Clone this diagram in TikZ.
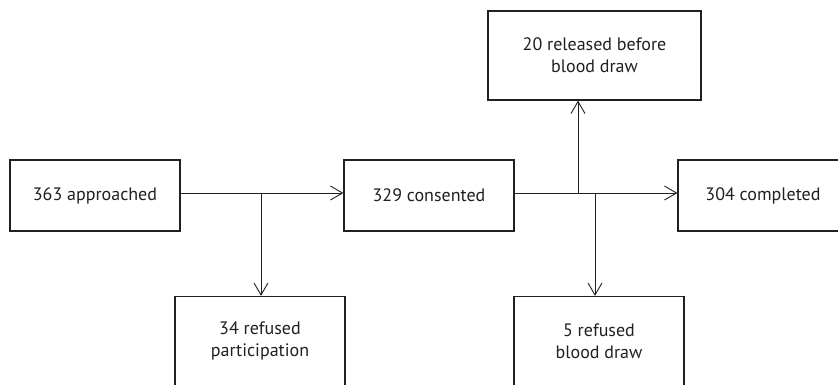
\documentclass[tikz,border=0pt]{standalone}
\usepackage{fontspec}
\setmainfont{PT Sans}
\usetikzlibrary{arrows.meta}
\definecolor{ink}{HTML}{231F20}
\begin{document}
\begin{tikzpicture}[x=1pt,y=-1pt,
  box/.style={draw=ink, line width=1.3pt, minimum width=170pt, minimum height=71pt, inner sep=0pt, align=center, text=ink, font=\fontsize{18}{22}\selectfont},
  tall/.style={box, minimum height=89pt},
  conn/.style={draw=ink, line width=0.9pt, -{Straight Barb[length=12pt,width=14pt,line width=0.9pt]}},
  plain/.style={draw=ink, line width=0.9pt}]
\useasboundingbox (0,0) rectangle (838,385);
\clip (0,0) rectangle (838,385);
\node[box] (app) at (95,195.5) {363 approached};
\node[box] (con) at (429,195.5) {329 consented};
\node[box] (com) at (763,195.5) {304 completed};
\node[tall, minimum width=213pt] (rel) at (594.5,55.5) {20 released before\\blood draw};
\node[tall] (ref1) at (260,341) {34 refused\\participation};
\node[tall] (ref2) at (599,341) {5 refused\\blood draw};
\coordinate (j1) at (261,193);
\coordinate (j2) at (578,193);
\coordinate (j3) at (595,193);
\draw[conn] (app.east |- j1) -- (con.west |- j1);
\draw[conn] (j1) -- (j1 |- ref1.north);
\draw[conn] (con.east |- j2) -- (com.west |- j2);
\draw[conn] (j2) -- (j2 |- rel.south);
\draw[conn] (j3) -- (j3 |- ref2.north);
\end{tikzpicture}
\end{document}
